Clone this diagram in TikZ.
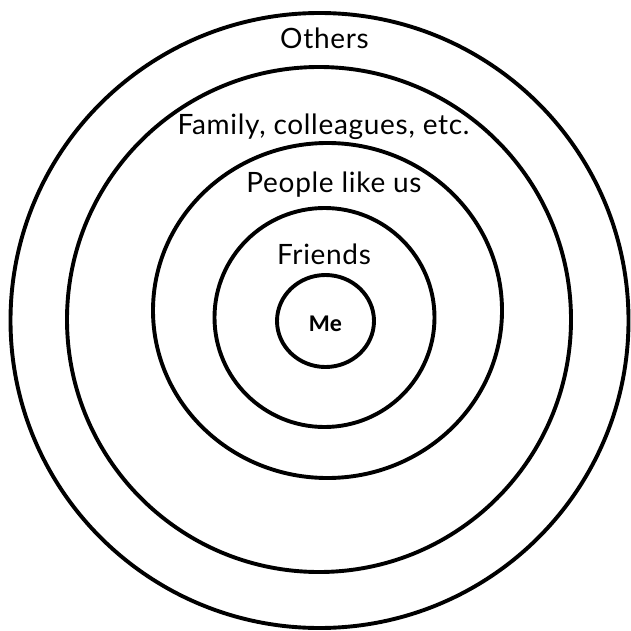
\documentclass[tikz,border=0pt]{standalone}
\usepackage{fontspec}
\setmainfont[LetterSpace=2.5]{Lato}
\newfontfamily\mefont{Carlito}
\begin{document}
\begin{tikzpicture}[x=1pt,y=-1pt,
  ring/.style={draw=black,line width=3.9pt},
  lbl/.style={anchor=base,inner sep=0pt,font=\fontsize{28}{32}\selectfont}]
\useasboundingbox (0,0) rectangle (631,631);
\draw[ring] (319.5,320.5) ellipse [x radius=309,y radius=307.5];
\draw[ring] (319,319.5) ellipse [x radius=252,y radius=252.5];
\draw[ring] (327.5,310.5) ellipse [x radius=174.5,y radius=167.5];
\draw[ring] (324.5,317.5) ellipse [x radius=110,y radius=109.5];
\draw[ring] (325.5,321) ellipse [x radius=48.5,y radius=46];
\node[lbl] (others) at (324.5,49) {Others};
\node[lbl] (family) at (323.5,135) {Family, colleagues, etc.};
\node[lbl] (people) at (334,193) {People like us};
\node[lbl] (friends) at (324,264) {Friends};
\node[anchor=base,inner sep=0pt,font=\mefont\bfseries\fontsize{24}{28}\selectfont] (me) at (325.5,331) {Me};
\end{tikzpicture}
\end{document}
